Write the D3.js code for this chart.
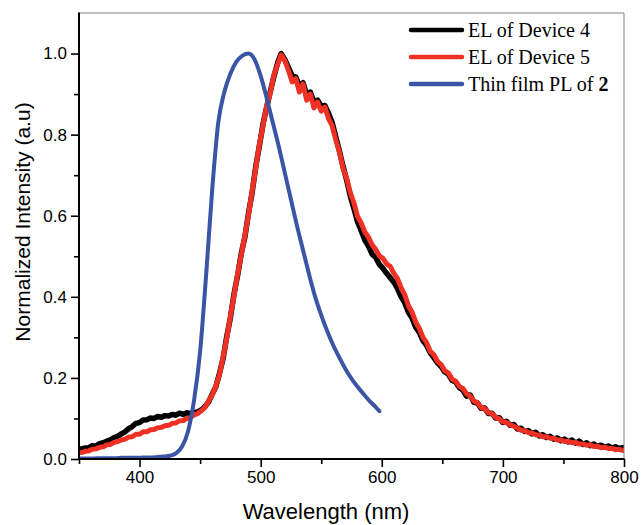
<!DOCTYPE html>
<html>
<head>
<meta charset="utf-8">
<script src="https://cdn.jsdelivr.net/npm/d3@7"></script>
<style>
  html, body { margin: 0; padding: 0; background: #fff; }
  svg { display: block; }
</style>
</head>
<body>
<svg id="chart" width="641" height="525"></svg>
<script>
// ---------- DATA ----------
// EL spectra sampled every 3 nm from 352 nm to 799 nm
const elStart = 352, elStep = 3;
const elDevice4 = [
  0.025,0.027,0.028,0.033,0.032,0.038,0.040,0.044,0.047,0.053,
  0.056,0.062,0.067,0.075,0.080,0.088,0.090,0.096,0.097,0.101,
  0.100,0.105,0.103,0.107,0.106,0.110,0.108,0.113,0.110,0.114,
  0.112,0.115,0.116,0.121,0.129,0.141,0.160,0.178,0.211,0.248,
  0.302,0.348,0.407,0.453,0.507,0.548,0.607,0.658,0.722,0.773,
  0.827,0.868,0.907,0.944,0.977,1.000,0.985,0.965,0.945,0.942,
  0.920,0.928,0.898,0.905,0.880,0.885,0.870,0.872,0.853,0.830,
  0.795,0.760,0.722,0.688,0.648,0.618,0.585,0.563,0.540,0.525,
  0.505,0.497,0.480,0.470,0.458,0.447,0.436,0.420,0.400,0.385,
  0.362,0.348,0.325,0.312,0.292,0.280,0.262,0.250,0.237,0.228,
  0.215,0.209,0.194,0.190,0.176,0.170,0.155,0.158,0.140,0.138,
  0.125,0.126,0.112,0.113,0.101,0.102,0.090,0.093,0.083,0.085,
  0.074,0.076,0.068,0.070,0.062,0.066,0.057,0.060,0.053,0.056,
  0.049,0.052,0.045,0.049,0.042,0.047,0.039,0.044,0.036,0.040,
  0.033,0.037,0.031,0.034,0.029,0.032,0.027,0.030,0.026,0.028
];
const elDevice5 = [
  0.016,0.019,0.020,0.024,0.025,0.029,0.030,0.035,0.036,0.041,
  0.043,0.047,0.049,0.054,0.055,0.061,0.061,0.067,0.067,0.072,
  0.073,0.077,0.078,0.082,0.083,0.088,0.089,0.094,0.095,0.100,
  0.102,0.109,0.112,0.119,0.127,0.143,0.158,0.180,0.208,0.252,
  0.298,0.352,0.403,0.457,0.503,0.552,0.603,0.662,0.718,0.777,
  0.823,0.872,0.903,0.948,0.973,0.997,0.982,0.958,0.930,0.938,
  0.905,0.925,0.885,0.900,0.866,0.880,0.858,0.868,0.840,0.822,
  0.787,0.757,0.717,0.692,0.657,0.632,0.598,0.582,0.560,0.547,
  0.528,0.517,0.501,0.495,0.481,0.475,0.458,0.445,0.422,0.405,
  0.378,0.362,0.338,0.322,0.300,0.287,0.266,0.257,0.241,0.233,
  0.218,0.212,0.197,0.192,0.179,0.174,0.161,0.155,0.143,0.139,
  0.127,0.124,0.114,0.112,0.103,0.099,0.092,0.090,0.084,0.081,
  0.076,0.071,0.070,0.065,0.064,0.060,0.059,0.055,0.055,0.051,
  0.051,0.047,0.047,0.043,0.044,0.040,0.041,0.037,0.037,0.034,
  0.035,0.031,0.032,0.028,0.029,0.026,0.026,0.023,0.024,0.021
];
// Thin film PL of 2, sampled every 5 nm from 350 nm, last point at 598 nm
const plWavelength = [
  350,355,360,365,370,375,380,385,390,395,400,405,410,415,420,425,430,435,440,445,
  450,455,460,465,470,475,480,485,490,495,500,505,510,515,520,525,530,535,540,545,
  550,555,560,565,570,575,580,585,590,595,598
];
const plFilm = [
  0.001,0.001,0.001,0.002,0.002,0.002,0.002,0.003,0.003,0.003,0.003,0.004,0.004,0.005,0.006,0.008,0.014,0.030,0.068,0.145,
  0.265,0.455,0.665,0.830,0.905,0.950,0.980,0.995,1.000,0.985,0.945,0.890,0.830,0.770,0.705,0.640,0.575,0.515,0.455,0.400,
  0.355,0.315,0.280,0.250,0.222,0.198,0.178,0.160,0.143,0.128,0.118
];
const xMajorTicks = [400, 500, 600, 700, 800];
const xMinorTicks = [350, 450, 550, 650, 750];
const yMajorTicks = [0.0, 0.2, 0.4, 0.6, 0.8, 1.0];
const yMinorTicks = [0.1, 0.3, 0.5, 0.7, 0.9];
const seriesNames = ["EL of Device 4", "EL of Device 5", "Thin film PL of "];
const seriesColors = ["#000000", "#ee3124", "#3a55a6"];

// ---------- LAYOUT ----------
const svg = d3.select("#chart");
const L = 79, R = 624, T = 13, B = 459;
const x = d3.scaleLinear().domain([350, 800]).range([L, R]);
const y = d3.scaleLinear().domain([0, 1.1]).range([B, T]);

const sansFont = "'Liberation Sans', Arial, sans-serif";
const serifFont = "'Liberation Serif', 'Times New Roman', serif";

const elData = (vals) => vals.map((v, i) => [elStart + i * elStep, v]);
const plData = plFilm.map((v, i) => [plWavelength[i], v]);

const line = d3.line().x(d => x(d[0])).y(d => y(d[1]));

const clip = svg.append("clipPath").attr("id", "plotclip")
  .append("rect").attr("x", L).attr("y", T).attr("width", R - L).attr("height", B - T);

const plot = svg.append("g").attr("clip-path", "url(#plotclip)");

plot.append("path").datum(elData(elDevice4))
  .attr("d", line).attr("fill", "none")
  .attr("stroke", seriesColors[0]).attr("stroke-width", 5.5)
  .attr("stroke-linejoin", "round").attr("stroke-linecap", "round");

plot.append("path").datum(elData(elDevice5))
  .attr("d", line).attr("fill", "none")
  .attr("stroke", seriesColors[1]).attr("stroke-width", 5)
  .attr("stroke-linejoin", "round").attr("stroke-linecap", "round");

plot.append("path").datum(plData)
  .attr("d", line.curve(d3.curveMonotoneX)).attr("fill", "none")
  .attr("stroke", seriesColors[2]).attr("stroke-width", 4)
  .attr("stroke-linejoin", "round").attr("stroke-linecap", "round");

// ---------- FRAME ----------
svg.append("line").attr("x1", L).attr("x2", R).attr("y1", T).attr("y2", T)
  .attr("stroke", "#808080").attr("stroke-width", 1);
svg.append("line").attr("x1", R).attr("x2", R).attr("y1", T).attr("y2", B)
  .attr("stroke", "#808080").attr("stroke-width", 1);

// ---------- AXES ----------
const xAxis = d3.axisBottom(x).tickValues(xMajorTicks).tickSize(8).tickPadding(4)
  .tickFormat(d3.format("d"));
const xAxisMinor = d3.axisBottom(x).tickValues(xMinorTicks).tickSize(5).tickFormat("");
const yAxis = d3.axisLeft(y).tickValues(yMajorTicks).tickSize(8).tickPadding(4)
  .tickFormat(d3.format(".1f"));
const yAxisMinor = d3.axisLeft(y).tickValues(yMinorTicks).tickSize(5).tickFormat("");

function styleAxis(g) {
  g.select(".domain").remove();
  g.selectAll(".tick line").attr("stroke", "#000").attr("stroke-width", 1.6);
  g.selectAll(".tick text").attr("fill", "#000")
    .style("font-family", sansFont).style("font-size", "17px");
}

svg.append("g").attr("transform", `translate(0,${B})`).call(xAxisMinor).call(styleAxis);
svg.append("g").attr("transform", `translate(0,${B})`).call(xAxis).call(styleAxis);
svg.append("g").attr("transform", `translate(${L},0)`).call(yAxisMinor).call(styleAxis);
svg.append("g").attr("transform", `translate(${L},0)`).call(yAxis).call(styleAxis);

svg.append("line").attr("x1", L).attr("x2", R + 0.5).attr("y1", B).attr("y2", B)
  .attr("stroke", "#000").attr("stroke-width", 2);
svg.append("line").attr("x1", L).attr("x2", L).attr("y1", T - 0.5).attr("y2", B + 1)
  .attr("stroke", "#000").attr("stroke-width", 2);

// ---------- TITLES ----------
svg.append("text")
  .attr("x", 326).attr("y", 519)
  .attr("text-anchor", "middle")
  .style("font-family", sansFont).style("font-size", "22px").attr("fill", "#000")
  .text("Wavelength (nm)");

svg.append("text")
  .attr("transform", `translate(30,222) rotate(-90)`)
  .attr("text-anchor", "middle")
  .style("font-family", sansFont).style("font-size", "21px").attr("fill", "#000")
  .text("Normalized Intensity (a.u)");

// ---------- LEGEND ----------
const legendRows = [30, 57, 84];
const legend = svg.append("g");
seriesNames.forEach((name, i) => {
  legend.append("line")
    .attr("x1", 411).attr("x2", 462)
    .attr("y1", legendRows[i]).attr("y2", legendRows[i])
    .attr("stroke", seriesColors[i]).attr("stroke-width", 4.5)
    .attr("stroke-linecap", "round");
  const t = legend.append("text")
    .attr("x", 468).attr("y", legendRows[i] + 7)
    .style("font-family", serifFont).style("font-size", "20px").attr("fill", "#000");
  t.append("tspan").text(name);
  if (i === 2) t.append("tspan").style("font-weight", "bold").text("2");
});
</script>
</body>
</html>
